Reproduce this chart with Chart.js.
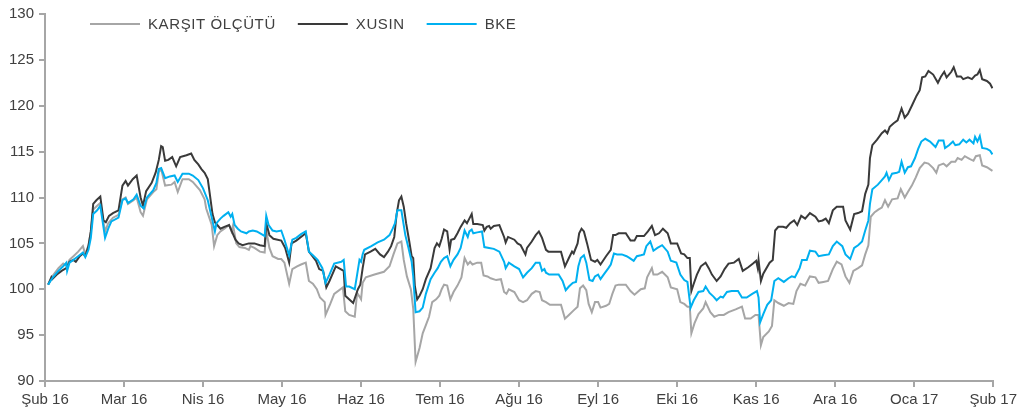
<!DOCTYPE html>
<html>
<head>
<meta charset="utf-8">
<script src="https://cdn.jsdelivr.net/npm/chart.js@4"></script>
<style>
  html, body { margin: 0; padding: 0; background: #fff; }
  #grafik { display: block; }
</style>
</head>
<body>
<canvas id="grafik" width="1021" height="417"></canvas>
<script>
// x ekseni: Şubat 2016'dan itibaren ay (0 = Şub 16, 12 = Şub 17)
var ayEtiketleri = ['Şub 16','Mar 16','Nis 16','May 16','Haz 16','Tem 16','Ağu 16','Eyl 16','Eki 16','Kas 16','Ara 16','Oca 17','Şub 17'];

/* KARŞIT ÖLÇÜTÜ */
var karsitAy = [0.04,0.10,0.17,0.23,0.28,0.31,0.36,0.42,0.48,0.51,0.55,0.58,0.61,0.66,0.70,0.76,0.80,0.86,0.93,0.98,1.02,1.05,1.12,1.16,1.21,1.24,1.29,1.37,1.41,1.44,1.47,1.52,1.60,1.64,1.68,1.74,1.82,1.87,1.96,2.02,2.04,
  2.11,2.14,2.18,2.22,2.27,2.33,2.36,2.38,2.42,2.46,2.53,2.58,2.60,2.65,2.72,2.78,2.80,2.84,2.88,2.95,2.99,3.03,3.09,3.13,3.19,3.24,3.30,3.34,3.39,3.44,3.48,3.54,3.55,3.61,3.66,3.77,3.80,3.85,3.92,
  3.95,3.98,4.00,4.02,4.06,4.17,4.29,4.36,4.41,4.46,4.51,4.54,4.58,4.63,4.66,4.69,4.74,4.78,4.82,4.86,4.90,4.95,4.99,5.02,5.05,5.09,5.13,5.17,5.22,5.27,5.31,5.35,5.38,5.41,5.47,5.52,5.55,5.60,5.64,5.71,5.77,5.81,5.84,
  5.87,5.94,6.00,6.05,6.10,6.16,6.21,6.26,6.29,6.34,6.39,6.53,6.58,6.63,6.69,6.74,6.77,6.81,6.85,6.88,6.92,6.96,7.00,7.03,7.10,7.14,7.18,7.22,7.26,7.35,7.41,7.46,7.54,7.59,7.62,7.68,7.70,7.75,7.81,
  7.88,7.92,8.00,8.04,8.09,8.13,8.16,8.18,8.22,8.27,8.33,8.36,8.42,8.47,8.53,8.59,8.65,8.74,8.82,8.86,8.93,8.99,9.03,9.06,9.09,9.16,9.20,9.23,9.28,9.35,9.41,9.47,9.51,9.56,9.62,9.68,9.75,9.79,
  9.85,9.91,9.97,10.02,10.08,10.13,10.18,10.23,10.29,10.34,10.38,10.42,10.45,10.50,10.55,10.59,10.63,10.67,10.72,10.79,10.83,10.88,10.92,10.97,11.02,11.07,11.13,11.18,11.24,11.28,11.31,11.37,11.41,11.47,11.52,11.55,11.60,11.64,11.70,11.75,11.78,11.83,11.86,11.92,11.99];
var karsit = [100.5,101.5,102.3,102.8,102.5,103.2,103.6,104.1,104.7,103.8,104.8,106.3,108.7,109.1,109.4,106.3,107.2,107.8,108.1,109.8,110.0,109.3,109.7,110.0,108.4,108.0,109.8,110.6,110.9,112.8,113.1,111.3,111.4,111.7,110.6,112.0,112.0,111.7,110.8,109.8,108.8,
  107.0,104.7,105.9,106.3,106.6,107.0,106.3,107.0,105.0,104.6,104.5,104.3,104.7,104.5,104.1,104.0,106.4,104.5,103.6,103.3,103.3,102.9,100.6,102.2,102.5,102.7,102.9,100.9,100.6,100.0,99.1,98.6,97.2,98.4,99.5,100.2,97.6,97.2,97.0,
  99.6,99.2,98.9,100.7,101.3,101.6,101.9,102.5,103.8,105.0,105.2,103.2,101.4,100.0,97.9,92.1,93.6,95.2,96.1,97.0,98.6,98.9,99.3,100.0,100.5,100.4,98.9,99.7,100.4,101.3,103.4,102.7,103.0,102.7,102.9,102.9,101.5,101.4,101.2,101.0,101.1,99.7,99.5,
  100.0,99.7,98.8,98.6,98.8,99.5,99.8,99.7,98.8,98.6,98.3,98.3,96.8,97.2,97.7,98.1,100.1,100.4,99.9,98.4,97.5,98.6,98.6,98.0,98.2,98.4,99.5,100.4,100.5,100.5,99.8,99.4,100.0,100.1,101.3,102.3,101.6,101.6,101.9,
  101.3,100.2,100.0,98.6,98.4,98.1,98.1,95.2,96.3,97.3,97.9,98.6,97.5,97.0,97.2,97.2,97.5,97.8,98.1,96.8,96.8,97.2,97.2,93.9,94.8,95.4,96.0,98.8,98.5,98.2,98.5,98.4,99.8,100.6,100.4,101.4,101.3,100.7,
  100.8,100.9,102.2,103.0,102.7,101.4,100.7,102.0,102.3,102.6,103.8,104.8,107.9,108.4,108.7,108.9,109.7,109.0,109.8,109.9,110.9,110.0,110.6,111.3,112.2,113.2,113.8,113.7,113.2,112.7,113.5,113.7,113.4,113.9,113.9,114.3,114.1,114.5,114.2,114.0,114.5,114.6,113.5,113.3,112.9];

/* XUSIN */
var xusinAy = [0.04,0.08,0.09,0.15,0.21,0.27,0.31,0.36,0.39,0.44,0.48,0.51,0.55,0.58,0.61,0.65,0.70,0.74,0.77,0.81,0.86,0.93,0.98,1.02,1.05,1.11,1.16,1.21,1.24,1.28,1.35,1.40,1.44,1.47,1.49,1.52,1.56,1.61,1.66,1.71,1.79,1.85,1.89,1.94,1.98,2.02,2.06,
  2.12,2.15,2.18,2.22,2.27,2.33,2.36,2.41,2.45,2.50,2.58,2.65,2.72,2.78,2.80,2.84,2.89,2.99,3.04,3.09,3.12,3.18,3.30,3.34,3.43,3.47,3.52,3.56,3.60,3.68,3.78,3.80,3.90,
  3.96,3.99,4.02,4.05,4.12,4.18,4.24,4.29,4.34,4.38,4.42,4.45,4.48,4.51,4.54,4.57,4.61,4.64,4.66,4.68,4.71,4.74,4.78,4.82,4.88,4.93,4.96,4.99,5.02,5.05,5.09,5.12,5.14,5.18,5.22,5.26,5.31,5.34,5.37,5.40,5.42,5.47,5.54,5.56,5.59,5.62,5.64,5.68,5.75,5.81,5.83,5.86,
  5.94,5.98,6.02,6.08,6.10,6.16,6.21,6.25,6.29,6.34,6.37,6.42,6.53,6.58,6.63,6.67,6.69,6.74,6.76,6.79,6.82,6.86,6.91,6.96,6.99,7.03,7.10,7.16,7.19,7.22,7.26,7.35,7.41,7.46,7.49,7.58,7.63,7.68,7.72,7.77,7.82,
  7.88,7.92,8.00,8.05,8.09,8.13,8.16,8.18,8.21,8.25,8.30,8.36,8.40,8.44,8.50,8.55,8.60,8.65,8.72,8.78,8.83,8.90,8.96,9.00,9.02,9.03,9.06,9.09,9.17,9.21,9.24,9.28,9.34,9.38,9.43,9.48,9.52,9.57,9.62,9.68,9.75,9.79,
  9.84,9.88,9.92,9.97,10.02,10.10,10.13,10.19,10.24,10.29,10.34,10.38,10.42,10.44,10.47,10.53,10.59,10.63,10.66,10.69,10.74,10.79,10.84,10.88,10.92,10.97,11.03,11.07,11.10,11.14,11.18,11.24,11.30,11.34,11.38,11.41,11.47,11.50,11.54,11.59,11.62,11.68,11.73,11.77,11.80,11.83,11.86,11.92,11.96,11.99];
var xusin = [100.5,101.3,101.1,101.6,102.0,102.3,103.0,103.2,103.0,103.6,103.9,103.6,104.7,106.3,109.3,109.7,110.1,107.5,107.3,108.0,108.3,108.6,111.3,111.8,111.3,112.0,112.4,110.0,109.1,110.7,111.6,112.7,114.1,115.6,115.5,114.0,114.1,114.4,113.4,114.4,114.6,114.8,114.1,113.6,113.1,112.7,112.0,
  108.2,107.3,107.0,106.6,106.8,107.0,106.4,105.4,105.0,104.8,105.0,105.0,104.8,104.7,107.2,105.9,105.5,105.3,104.5,102.9,105.0,105.3,106.1,104.1,103.1,102.2,102.0,100.2,100.9,102.5,102.0,99.3,98.5,
  100.0,100.5,102.3,103.8,104.1,104.4,103.8,103.5,104.1,104.7,105.7,108.2,109.7,110.1,109.0,107.2,105.2,103.6,103.4,100.4,98.9,99.3,100.0,101.1,102.3,104.5,105.0,104.7,105.5,106.5,106.3,104.3,105.4,105.5,106.1,106.8,107.5,107.2,107.7,108.2,107.1,107.1,107.0,106.4,106.8,106.9,106.6,106.9,107.0,105.7,105.1,105.7,
  105.4,105.0,104.8,103.8,104.5,105.2,105.9,106.3,105.6,104.3,104.1,104.1,104.1,102.5,103.4,104.1,103.9,105.0,106.1,106.6,106.3,105.0,103.2,103.0,103.2,102.7,103.6,104.3,105.9,105.9,106.1,106.1,105.3,105.3,105.8,105.8,106.3,106.9,105.9,106.1,106.6,
  106.1,105.0,105.0,103.9,103.8,103.4,103.4,99.8,100.6,101.6,102.5,102.9,102.3,101.6,100.9,101.4,102.2,102.8,102.9,103.3,102.0,102.4,102.8,103.1,102.3,103.2,100.9,101.7,102.9,103.2,106.4,106.8,106.8,106.7,107.2,107.5,107.0,108.0,107.7,108.3,107.9,107.4,
  107.5,107.7,107.2,108.6,109.0,109.0,107.5,106.5,108.2,108.3,108.5,110.4,111.4,114.3,115.7,116.3,117.0,117.3,117.0,117.7,118.1,118.4,119.7,118.7,119.1,120.0,121.1,121.7,123.1,123.2,123.8,123.4,122.5,123.2,123.7,123.1,123.7,124.2,123.2,123.2,122.9,123.1,122.9,123.3,123.4,123.9,122.9,122.7,122.4,121.9];

/* BKE */
var bkeAy = [0.04,0.10,0.17,0.23,0.27,0.28,0.31,0.36,0.42,0.48,0.51,0.55,0.58,0.61,0.66,0.70,0.76,0.80,0.84,0.93,0.98,1.02,1.05,1.12,1.16,1.21,1.25,1.29,1.37,1.41,1.44,1.47,1.52,1.58,1.64,1.68,1.74,1.82,1.87,1.94,2.00,2.06,
  2.15,2.17,2.22,2.26,2.32,2.35,2.37,2.40,2.44,2.48,2.55,2.58,2.63,2.68,2.74,2.78,2.80,2.83,2.88,2.93,2.99,3.03,3.09,3.13,3.18,3.24,3.30,3.34,3.39,3.45,3.51,3.55,3.60,3.66,3.75,3.78,3.81,3.85,3.92,
  3.95,3.98,4.00,4.02,4.04,4.13,4.21,4.29,4.36,4.40,4.43,4.46,4.51,4.53,4.56,4.60,4.64,4.66,4.69,4.74,4.78,4.82,4.88,4.93,4.97,5.01,5.05,5.09,5.13,5.17,5.22,5.26,5.31,5.35,5.37,5.40,5.42,5.47,5.53,5.56,5.62,5.68,5.75,5.81,5.83,5.87,
  5.94,6.00,6.05,6.10,6.16,6.21,6.26,6.29,6.32,6.34,6.38,6.50,6.55,6.59,6.63,6.68,6.72,6.75,6.78,6.82,6.85,6.89,6.93,6.96,7.00,7.03,7.07,7.13,7.16,7.20,7.24,7.30,7.36,7.40,7.45,7.49,7.54,7.58,7.61,7.66,7.70,7.75,7.81,
  7.88,7.92,7.99,8.04,8.09,8.13,8.17,8.21,8.27,8.33,8.36,8.41,8.46,8.50,8.55,8.58,8.63,8.69,8.77,8.82,8.88,8.95,9.01,9.03,9.05,9.09,9.14,9.19,9.23,9.28,9.35,9.41,9.45,9.49,9.55,9.58,9.64,9.68,9.75,9.79,
  9.85,9.92,9.97,10.02,10.09,10.13,10.19,10.24,10.29,10.34,10.38,10.42,10.44,10.47,10.54,10.59,10.63,10.65,10.68,10.72,10.78,10.81,10.84,10.88,10.92,10.96,11.01,11.05,11.09,11.14,11.20,11.27,11.31,11.37,11.39,11.44,11.49,11.52,11.57,11.62,11.66,11.70,11.75,11.77,11.80,11.83,11.86,11.92,11.96,11.99];
var bke = [100.5,101.3,102.0,102.5,102.9,102.0,102.9,103.2,103.6,104.0,103.5,104.3,105.6,108.2,108.6,109.1,105.6,106.6,107.4,107.8,109.7,109.9,109.4,109.8,110.3,109.1,108.8,110.0,110.8,111.6,113.1,113.2,112.1,112.3,112.4,111.7,112.6,112.6,112.4,111.9,111.0,109.7,
  106.3,107.2,107.7,108.0,108.4,107.9,108.2,107.0,106.6,106.3,106.1,106.3,106.4,106.3,106.0,105.8,108.0,107.0,106.4,106.3,106.4,105.4,103.7,105.4,105.6,106.0,106.3,104.1,103.7,103.2,102.3,100.7,101.6,102.8,103.0,103.2,100.3,100.3,100.0,
  101.6,103.2,103.0,103.8,104.3,104.7,105.1,105.4,105.9,106.6,107.2,108.6,108.6,107.5,105.9,104.5,103.0,101.4,97.5,97.6,98.0,99.5,101.1,101.8,102.3,103.0,103.4,103.6,102.5,103.2,103.8,104.5,106.4,105.7,106.3,106.5,106.1,106.2,106.3,104.6,104.5,104.4,104.1,103.0,102.3,102.9,
  102.5,102.2,101.3,101.8,102.3,102.9,102.9,102.0,102.2,101.8,101.6,101.6,100.9,99.9,100.3,100.7,100.8,102.5,103.4,103.7,102.9,101.0,100.9,101.4,101.6,101.1,101.6,102.3,102.7,103.9,103.8,103.8,103.6,103.4,103.1,103.6,103.7,103.8,104.7,105.2,104.2,104.5,104.8,
  104.1,103.1,102.9,101.6,101.0,100.8,98.0,98.8,99.7,99.8,100.3,99.6,99.2,98.8,99.2,99.1,99.7,99.8,99.8,99.1,99.1,99.5,99.8,99.1,96.4,97.3,98.3,98.8,100.9,101.2,100.8,101.2,101.4,101.3,102.3,103.2,103.2,104.2,104.1,103.6,
  103.7,103.8,104.7,105.2,104.7,103.8,103.3,104.5,104.8,105.2,106.4,107.5,109.3,110.9,111.4,111.9,112.3,112.7,111.9,112.6,112.7,112.8,113.9,112.7,113.3,113.4,114.3,115.3,116.1,116.4,116.1,115.5,116.2,116.2,115.4,115.7,116.1,115.7,115.8,116.3,116.0,116.3,115.9,116.6,116.1,116.7,115.4,115.3,115.1,114.7];

function noktalar(ay, deger) {
    var sonuc = [];
    for (let i = 0; i < ay.length; i++) {
        sonuc.push({ x: ay[i], y: deger[i] });
    }
    return sonuc;
}

var yazi = '"Liberation Sans", Arial, sans-serif';
var eksenRengi = '#a6a6a6';

// legend: ust solda, cizgi + metin
var ozelLegend = {
    id: 'ozelLegend',
    afterDraw: function(chart) {
        var ctx = chart.ctx;
        var x = 90, y = 24;
        ctx.save();
        ctx.font = '15px ' + yazi;
        ctx.letterSpacing = '0.6px';
        ctx.textBaseline = 'middle';
        chart.data.datasets.forEach(function(ds) {
            ctx.strokeStyle = ds.borderColor;
            ctx.lineWidth = 2;
            ctx.beginPath();
            ctx.moveTo(x, y);
            ctx.lineTo(x + 50, y);
            ctx.stroke();
            ctx.fillStyle = '#404040';
            ctx.fillText(ds.label, x + 58, y + 1);
            x += 58 + ctx.measureText(ds.label).width + 22;
        });
        ctx.restore();
    }
};

new Chart(document.getElementById('grafik'), {
    type: 'line',
    data: {
        datasets: [
            { label: 'KARŞIT ÖLÇÜTÜ', data: noktalar(karsitAy, karsit), borderColor: '#a6a6a6', order: 3 },
            { label: 'XUSIN', data: noktalar(xusinAy, xusin), borderColor: '#3a3a3a', order: 2 },
            { label: 'BKE', data: noktalar(bkeAy, bke), borderColor: '#00b0f0', order: 1 }
        ]
    },
    options: {
        responsive: false,
        animation: false,
        devicePixelRatio: 1,
        layout: { padding: { top: 8, right: 26, left: 0, bottom: 0 } },
        elements: {
            point: { radius: 0 },
            line: { borderWidth: 2, tension: 0, fill: false }
        },
        plugins: {
            legend: { display: false },
            tooltip: { enabled: false }
        },
        scales: {
            x: {
                type: 'linear',
                min: 0,
                max: 12,
                afterFit: function(s) { s.height = 36; },
                border: { color: eksenRengi, width: 2 },
                grid: { drawOnChartArea: false, tickLength: 6, color: eksenRengi, lineWidth: 2 },
                ticks: {
                    stepSize: 1,
                    autoSkip: false,
                    maxRotation: 0,
                    padding: 4,
                    color: '#404040',
                    font: { family: yazi, size: 15 },
                    callback: function(v) { return ayEtiketleri[v]; }
                }
            },
            y: {
                min: 90,
                max: 130,
                afterFit: function(s) { s.width = 45; },
                border: { color: eksenRengi, width: 2 },
                grid: { drawOnChartArea: false, tickLength: 6, color: eksenRengi, lineWidth: 2 },
                ticks: {
                    stepSize: 5,
                    padding: 5,
                    color: '#404040',
                    font: { family: yazi, size: 15 }
                }
            }
        }
    },
    plugins: [ozelLegend]
});
</script>
</body>
</html>
